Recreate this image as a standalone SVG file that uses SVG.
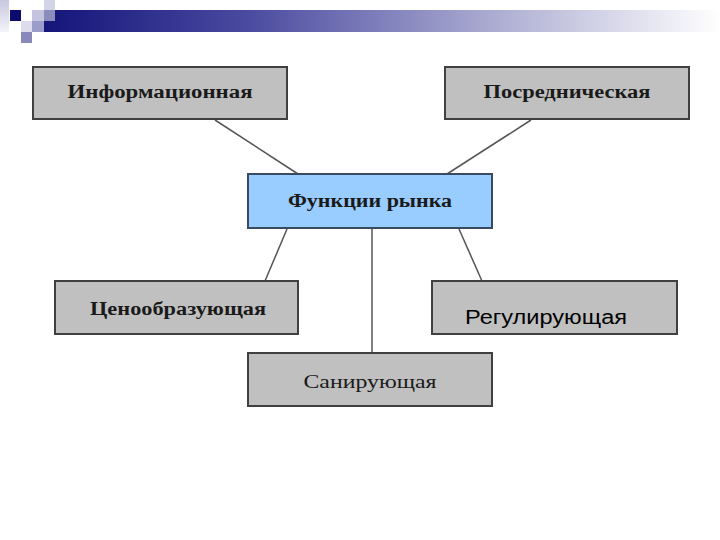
<svg xmlns="http://www.w3.org/2000/svg" width="720" height="540" viewBox="0 0 720 540">
<defs>
<linearGradient id="bar" x1="0" y1="0" x2="1" y2="0">
<stop offset="0" stop-color="#14147a"/>
<stop offset="0.3" stop-color="#4a4aa0"/>
<stop offset="0.65" stop-color="#a8a8d0"/>
<stop offset="1" stop-color="#ffffff"/>
</linearGradient>
<linearGradient id="lft" x1="0" y1="0" x2="0" y2="1">
<stop offset="0" stop-color="#c8c8e0"/>
<stop offset="1" stop-color="#f4f4fa"/>
</linearGradient>
<style>
.box{fill:#c0c0c0;stroke:#404040;stroke-width:2}
.main{fill:#99ccff;stroke:#3a4a60;stroke-width:2}
.t{font-family:"Liberation Serif","Times New Roman",serif;font-weight:bold;font-size:18px;fill:#1a1a1a;text-anchor:middle}
.s{font-family:"Liberation Sans",Arial,sans-serif;font-size:20px;fill:#000}
.c{stroke:#555;stroke-width:1.5;fill:none}
</style>
</defs>
<rect width="720" height="540" fill="#fff"/>
<g id="decor">
<rect x="44" y="10" width="676" height="22" fill="url(#bar)"/>
<rect x="0" y="0" width="9" height="32" fill="url(#lft)"/>
<rect x="10" y="10" width="11" height="11" fill="#0c0c70"/>
<rect x="32" y="10" width="12" height="11" fill="#c4c4e0"/>
<rect x="44" y="0" width="11" height="10" fill="#d4d4e8"/>
<rect x="44" y="10" width="11" height="11" fill="#8c8cbc"/>
<rect x="32" y="21" width="12" height="11" fill="#9c9ccc"/>
<rect x="21" y="21" width="11" height="11" fill="#dcdcec"/>
<rect x="21" y="32" width="11" height="11" fill="#8888bb"/>
</g>
<g id="connectors">
<line class="c" x1="215" y1="120" x2="298" y2="174"/>
<line class="c" x1="531" y1="120" x2="447" y2="174"/>
<line class="c" x1="287" y1="229" x2="265" y2="281"/>
<line class="c" x1="372" y1="229" x2="372" y2="353"/>
<line class="c" x1="459" y1="229" x2="482" y2="281"/>
</g>
<g id="n-info">
<rect class="box" x="33" y="67" width="254" height="52"/>
<text class="t" x="160" y="98" textLength="185" lengthAdjust="spacingAndGlyphs">Информационная</text>
</g>
<g id="n-posr">
<rect class="box" x="445" y="67" width="244" height="52"/>
<text class="t" x="567" y="98" textLength="167" lengthAdjust="spacingAndGlyphs">Посредническая</text>
</g>
<g id="n-main">
<rect class="main" x="248" y="174" width="244" height="54"/>
<text class="t" x="370" y="207" textLength="164" lengthAdjust="spacingAndGlyphs">Функции рынка</text>
</g>
<g id="n-cen">
<rect class="box" x="55" y="281" width="243" height="53"/>
<text class="t" x="178" y="315" textLength="176" lengthAdjust="spacingAndGlyphs">Ценообразующая</text>
</g>
<g id="n-reg">
<rect class="box" x="432" y="281" width="245" height="53"/>
<text class="s" x="465" y="324" textLength="162" lengthAdjust="spacingAndGlyphs">Регулирующая</text>
</g>
<g id="n-san">
<rect class="box" x="248" y="353" width="244" height="53"/>
<text class="t" x="370" y="388" textLength="133" lengthAdjust="spacingAndGlyphs" style="font-weight:normal">Санирующая</text>
</g>
</svg>
